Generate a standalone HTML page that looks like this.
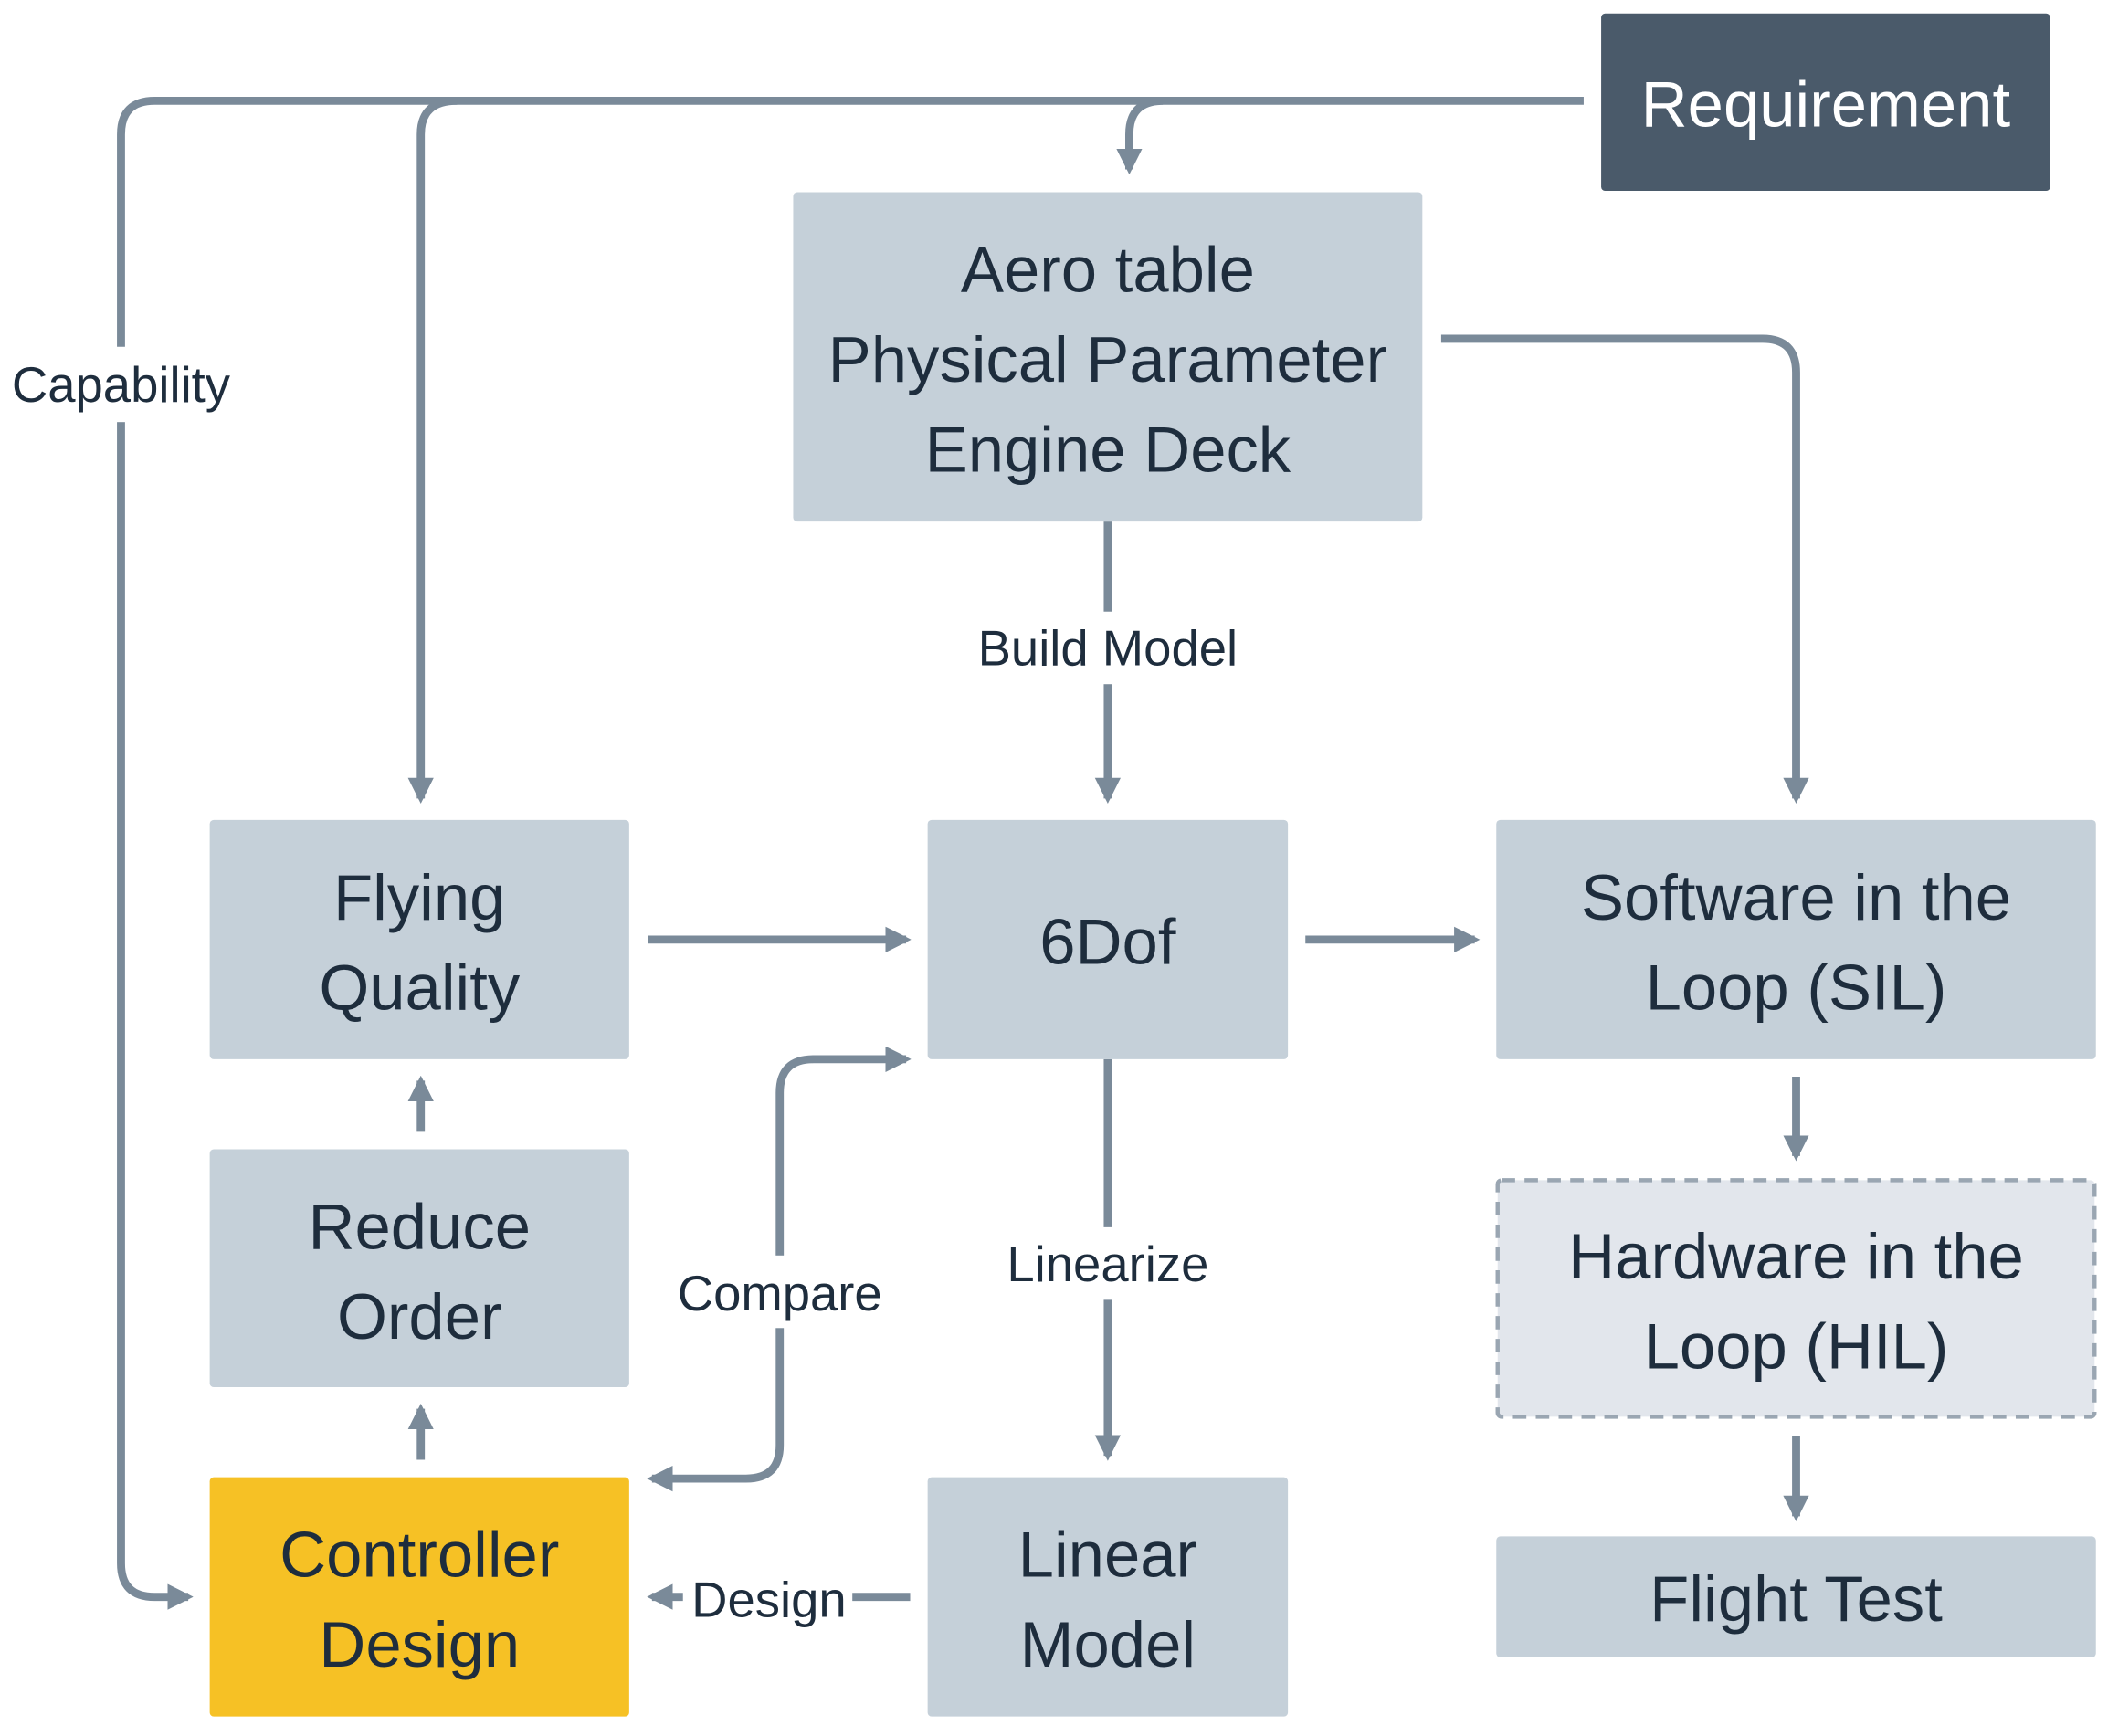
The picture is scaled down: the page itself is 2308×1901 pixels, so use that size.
<!DOCTYPE html>
<html><head><meta charset="utf-8"><style>
html,body{margin:0;padding:0;background:#fff;}
svg{display:block}
text{font-family:"Liberation Sans",sans-serif;fill:#1e2d3d;text-anchor:middle;}
.b{font-size:48px}
.l{font-size:37px}
</style></head><body>
<svg width="2308" height="1901" viewBox="0 0 1568 1291.5" xmlns="http://www.w3.org/2000/svg">
<defs>
<marker id="a" viewBox="0 0 10 10" refX="8" refY="5" markerWidth="3.2" markerHeight="3.2" orient="auto-start-reverse" markerUnits="strokeWidth">
<path d="M0,0 L10,5 L0,10 z" fill="#7a8a99"/></marker>
</defs>
<g fill="none" stroke="#7a8a99" stroke-width="6">
<path d="M1178 75 H115 Q90 75 90 100 V1163 Q90 1188 115 1188 H140" marker-end="url(#a)"/>
<path d="M340 75 Q313 75 313 100 V594" marker-end="url(#a)"/>
<path d="M865 75 Q840 75 840 100 V126" marker-end="url(#a)"/>
<path d="M1072 252 H1311 Q1336 252 1336 277 V594" marker-end="url(#a)"/>
<path d="M824 388 V594" marker-end="url(#a)"/>
<path d="M482 699 H674" marker-end="url(#a)"/>
<path d="M971 699 H1097" marker-end="url(#a)"/>
<path d="M1336 801 V860" marker-end="url(#a)"/>
<path d="M1336 1068 V1128" marker-end="url(#a)"/>
<path d="M313 842 V804" marker-end="url(#a)"/>
<path d="M313 1086 V1048" marker-end="url(#a)"/>
<path d="M824 788 V1083" marker-end="url(#a)"/>
<path d="M674 788 H605 Q580 788 580 813 V1075 Q580 1100 555 1100 H485" marker-start="url(#a)" marker-end="url(#a)"/>
<path d="M677 1188 H485" marker-end="url(#a)"/>
</g>
<g fill="#fff">
<rect x="0" y="258" width="180" height="56"/>
<rect x="715" y="455" width="220" height="54"/>
<rect x="730" y="913" width="190" height="54"/>
<rect x="492" y="934" width="176" height="54"/>
<rect x="508" y="1163" width="126" height="54"/>
</g>
<text class="l" x="90" y="299">Capability</text>
<text class="l" x="824" y="495">Build Model</text>
<text class="l" x="824" y="953">Linearize</text>
<text class="l" x="580" y="975">Compare</text>
<text class="l" x="572" y="1203">Design</text>
<rect x="1191" y="10" width="334" height="132" rx="3" fill="#4a5a6a"/>
<text class="b" x="1358" y="94" style="fill:#fff">Requirement</text>
<g fill="#c5d0d9">
<rect x="590" y="143" width="468" height="245" rx="3"/>
<rect x="156" y="610" width="312" height="178" rx="3"/>
<rect x="690" y="610" width="268" height="178" rx="3"/>
<rect x="1113" y="610" width="446" height="178" rx="3"/>
<rect x="156" y="855" width="312" height="177" rx="3"/>
<rect x="690" y="1099" width="268" height="178" rx="3"/>
<rect x="1113" y="1143" width="446" height="90" rx="3"/>
</g>
<rect x="156" y="1099" width="312" height="178" rx="3" fill="#f6c125"/>
<rect x="1114" y="878" width="444" height="176" rx="3" fill="#e2e6ec" stroke="#9aa6b2" stroke-width="3" stroke-dasharray="10 7"/>
<text class="b" x="824" y="217">Aero table</text>
<text class="b" x="824" y="284">Physical Parameter</text>
<text class="b" x="824" y="351">Engine Deck</text>
<text class="b" x="312" y="684">Flying</text>
<text class="b" x="312" y="751">Quality</text>
<text class="b" x="824" y="717">6Dof</text>
<text class="b" x="1336" y="684">Software in the</text>
<text class="b" x="1336" y="751">Loop (SIL)</text>
<text class="b" x="312" y="929">Reduce</text>
<text class="b" x="312" y="996">Order</text>
<text class="b" x="1336" y="951">Hardware in the</text>
<text class="b" x="1336" y="1018">Loop (HIL)</text>
<text class="b" x="312" y="1173">Controller</text>
<text class="b" x="312" y="1240">Design</text>
<text class="b" x="824" y="1173">Linear</text>
<text class="b" x="824" y="1240">Model</text>
<text class="b" x="1336" y="1206">Flight Test</text>
</svg>
</body></html>
